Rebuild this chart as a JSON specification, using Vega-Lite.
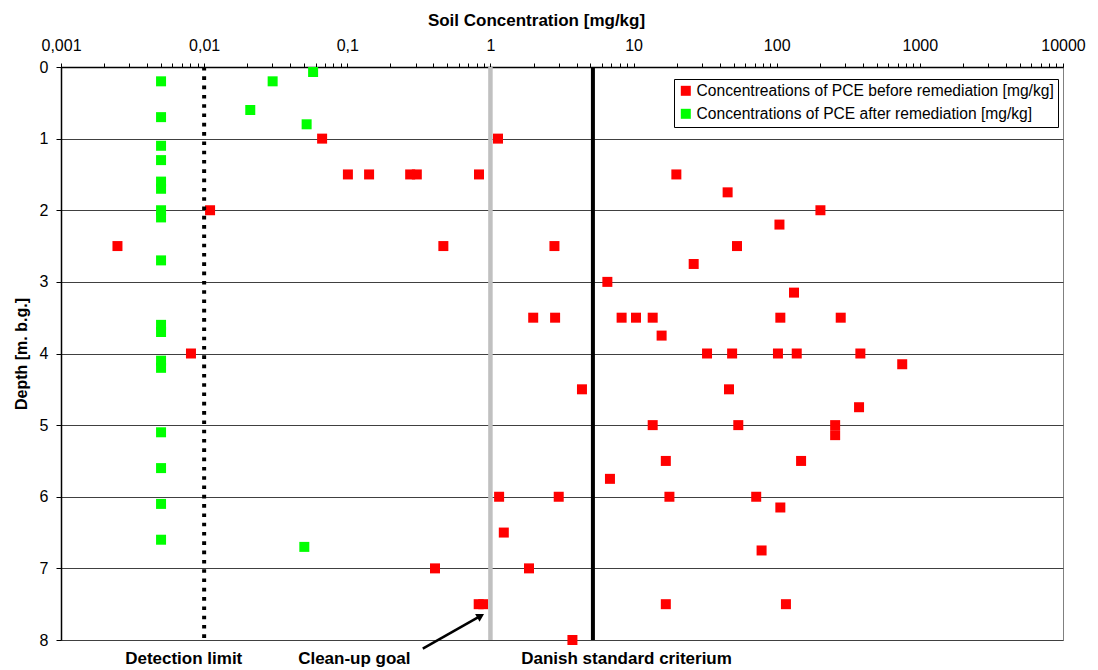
{
  "$schema": "https://vega.github.io/schema/vega-lite/v6.json",
  "width": 1002,
  "height": 573,
  "autosize": {"type": "none"},
  "padding": {"left": 61, "top": 67, "right": 35, "bottom": 30},
  "background": "white",
  "config": {
    "font": "Liberation Sans",
    "view": {"stroke": "#808080", "strokeWidth": 1}
  },
  "datasets": {
    "points": [
      {"conc": 0.0667, "depth": 1.0, "series": "Concentreations of PCE before remediation [mg/kg]"},
      {"conc": 1.13, "depth": 1.0, "series": "Concentreations of PCE before remediation [mg/kg]"},
      {"conc": 0.101, "depth": 1.5, "series": "Concentreations of PCE before remediation [mg/kg]"},
      {"conc": 0.142, "depth": 1.5, "series": "Concentreations of PCE before remediation [mg/kg]"},
      {"conc": 0.275, "depth": 1.5, "series": "Concentreations of PCE before remediation [mg/kg]"},
      {"conc": 0.306, "depth": 1.5, "series": "Concentreations of PCE before remediation [mg/kg]"},
      {"conc": 0.832, "depth": 1.5, "series": "Concentreations of PCE before remediation [mg/kg]"},
      {"conc": 19.9, "depth": 1.5, "series": "Concentreations of PCE before remediation [mg/kg]"},
      {"conc": 45.4, "depth": 1.75, "series": "Concentreations of PCE before remediation [mg/kg]"},
      {"conc": 0.011, "depth": 2.0, "series": "Concentreations of PCE before remediation [mg/kg]"},
      {"conc": 202, "depth": 2.0, "series": "Concentreations of PCE before remediation [mg/kg]"},
      {"conc": 104.5, "depth": 2.2, "series": "Concentreations of PCE before remediation [mg/kg]"},
      {"conc": 0.00248, "depth": 2.5, "series": "Concentreations of PCE before remediation [mg/kg]"},
      {"conc": 0.469, "depth": 2.5, "series": "Concentreations of PCE before remediation [mg/kg]"},
      {"conc": 2.8, "depth": 2.5, "series": "Concentreations of PCE before remediation [mg/kg]"},
      {"conc": 52.8, "depth": 2.5, "series": "Concentreations of PCE before remediation [mg/kg]"},
      {"conc": 26.3, "depth": 2.75, "series": "Concentreations of PCE before remediation [mg/kg]"},
      {"conc": 6.56, "depth": 3.0, "series": "Concentreations of PCE before remediation [mg/kg]"},
      {"conc": 132, "depth": 3.15, "series": "Concentreations of PCE before remediation [mg/kg]"},
      {"conc": 1.99, "depth": 3.5, "series": "Concentreations of PCE before remediation [mg/kg]"},
      {"conc": 2.83, "depth": 3.5, "series": "Concentreations of PCE before remediation [mg/kg]"},
      {"conc": 8.25, "depth": 3.5, "series": "Concentreations of PCE before remediation [mg/kg]"},
      {"conc": 10.4, "depth": 3.5, "series": "Concentreations of PCE before remediation [mg/kg]"},
      {"conc": 13.6, "depth": 3.5, "series": "Concentreations of PCE before remediation [mg/kg]"},
      {"conc": 106, "depth": 3.5, "series": "Concentreations of PCE before remediation [mg/kg]"},
      {"conc": 280, "depth": 3.5, "series": "Concentreations of PCE before remediation [mg/kg]"},
      {"conc": 15.7, "depth": 3.75, "series": "Concentreations of PCE before remediation [mg/kg]"},
      {"conc": 0.00809, "depth": 4.0, "series": "Concentreations of PCE before remediation [mg/kg]"},
      {"conc": 32.6, "depth": 4.0, "series": "Concentreations of PCE before remediation [mg/kg]"},
      {"conc": 48.8, "depth": 4.0, "series": "Concentreations of PCE before remediation [mg/kg]"},
      {"conc": 102, "depth": 4.0, "series": "Concentreations of PCE before remediation [mg/kg]"},
      {"conc": 138, "depth": 4.0, "series": "Concentreations of PCE before remediation [mg/kg]"},
      {"conc": 384, "depth": 4.0, "series": "Concentreations of PCE before remediation [mg/kg]"},
      {"conc": 753, "depth": 4.15, "series": "Concentreations of PCE before remediation [mg/kg]"},
      {"conc": 4.36, "depth": 4.5, "series": "Concentreations of PCE before remediation [mg/kg]"},
      {"conc": 46.4, "depth": 4.5, "series": "Concentreations of PCE before remediation [mg/kg]"},
      {"conc": 376, "depth": 4.75, "series": "Concentreations of PCE before remediation [mg/kg]"},
      {"conc": 13.6, "depth": 5.0, "series": "Concentreations of PCE before remediation [mg/kg]"},
      {"conc": 53.9, "depth": 5.0, "series": "Concentreations of PCE before remediation [mg/kg]"},
      {"conc": 256, "depth": 5.0, "series": "Concentreations of PCE before remediation [mg/kg]"},
      {"conc": 256, "depth": 5.14, "series": "Concentreations of PCE before remediation [mg/kg]"},
      {"conc": 16.8, "depth": 5.5, "series": "Concentreations of PCE before remediation [mg/kg]"},
      {"conc": 148, "depth": 5.5, "series": "Concentreations of PCE before remediation [mg/kg]"},
      {"conc": 6.84, "depth": 5.75, "series": "Concentreations of PCE before remediation [mg/kg]"},
      {"conc": 1.15, "depth": 6.0, "series": "Concentreations of PCE before remediation [mg/kg]"},
      {"conc": 3.0, "depth": 6.0, "series": "Concentreations of PCE before remediation [mg/kg]"},
      {"conc": 17.8, "depth": 6.0, "series": "Concentreations of PCE before remediation [mg/kg]"},
      {"conc": 71.9, "depth": 6.0, "series": "Concentreations of PCE before remediation [mg/kg]"},
      {"conc": 106, "depth": 6.15, "series": "Concentreations of PCE before remediation [mg/kg]"},
      {"conc": 1.24, "depth": 6.5, "series": "Concentreations of PCE before remediation [mg/kg]"},
      {"conc": 78.4, "depth": 6.75, "series": "Concentreations of PCE before remediation [mg/kg]"},
      {"conc": 0.41, "depth": 7.0, "series": "Concentreations of PCE before remediation [mg/kg]"},
      {"conc": 1.86, "depth": 7.0, "series": "Concentreations of PCE before remediation [mg/kg]"},
      {"conc": 0.828, "depth": 7.5, "series": "Concentreations of PCE before remediation [mg/kg]"},
      {"conc": 0.891, "depth": 7.5, "series": "Concentreations of PCE before remediation [mg/kg]"},
      {"conc": 16.8, "depth": 7.5, "series": "Concentreations of PCE before remediation [mg/kg]"},
      {"conc": 116, "depth": 7.5, "series": "Concentreations of PCE before remediation [mg/kg]"},
      {"conc": 3.74, "depth": 8.0, "series": "Concentreations of PCE before remediation [mg/kg]"},
      {"conc": 0.005, "depth": 0.2, "series": "Concentrations of PCE after remediation [mg/kg]"},
      {"conc": 0.005, "depth": 0.7, "series": "Concentrations of PCE after remediation [mg/kg]"},
      {"conc": 0.005, "depth": 1.1, "series": "Concentrations of PCE after remediation [mg/kg]"},
      {"conc": 0.005, "depth": 1.3, "series": "Concentrations of PCE after remediation [mg/kg]"},
      {"conc": 0.005, "depth": 1.6, "series": "Concentrations of PCE after remediation [mg/kg]"},
      {"conc": 0.005, "depth": 1.7, "series": "Concentrations of PCE after remediation [mg/kg]"},
      {"conc": 0.005, "depth": 2.0, "series": "Concentrations of PCE after remediation [mg/kg]"},
      {"conc": 0.005, "depth": 2.1, "series": "Concentrations of PCE after remediation [mg/kg]"},
      {"conc": 0.005, "depth": 2.7, "series": "Concentrations of PCE after remediation [mg/kg]"},
      {"conc": 0.005, "depth": 3.6, "series": "Concentrations of PCE after remediation [mg/kg]"},
      {"conc": 0.005, "depth": 3.7, "series": "Concentrations of PCE after remediation [mg/kg]"},
      {"conc": 0.005, "depth": 4.1, "series": "Concentrations of PCE after remediation [mg/kg]"},
      {"conc": 0.005, "depth": 4.2, "series": "Concentrations of PCE after remediation [mg/kg]"},
      {"conc": 0.005, "depth": 5.1, "series": "Concentrations of PCE after remediation [mg/kg]"},
      {"conc": 0.005, "depth": 5.6, "series": "Concentrations of PCE after remediation [mg/kg]"},
      {"conc": 0.005, "depth": 6.1, "series": "Concentrations of PCE after remediation [mg/kg]"},
      {"conc": 0.005, "depth": 6.6, "series": "Concentrations of PCE after remediation [mg/kg]"},
      {"conc": 0.0301, "depth": 0.2, "series": "Concentrations of PCE after remediation [mg/kg]"},
      {"conc": 0.0577, "depth": 0.07, "series": "Concentrations of PCE after remediation [mg/kg]"},
      {"conc": 0.021, "depth": 0.6, "series": "Concentrations of PCE after remediation [mg/kg]"},
      {"conc": 0.052, "depth": 0.8, "series": "Concentrations of PCE after remediation [mg/kg]"},
      {"conc": 0.0501, "depth": 6.7, "series": "Concentrations of PCE after remediation [mg/kg]"}
    ],
    "detection": [{"conc": 0.01}],
    "cleanup": [{"conc": 1}],
    "danish": [{"conc": 5.2}],
    "labels": [
      {"conc": 0.0072, "depth": 8.26, "text": "Detection limit"},
      {"conc": 0.112, "depth": 8.26, "text": "Clean-up goal"},
      {"conc": 8.93, "depth": 8.26, "text": "Danish standard criterium"}
    ],
    "arrow": [{"conc": 0.337, "depth": 8.12, "conc2": 0.86, "depth2": 7.66}],
    "arrowhead": [{"conc": 0.855, "depth": 7.665}]
  },
  "layer": [
    {
      "data": {"name": "points"},
      "mark": {"type": "point", "shape": "square", "filled": true, "size": 100, "opacity": 1},
      "encoding": {
        "x": {
          "field": "conc",
          "type": "quantitative",
          "title": "Soil Concentration [mg/kg]",
          "scale": {"type": "log", "domain": [0.001, 10000], "nice": false},
          "axis": {
            "orient": "top",
            "grid": false,
            "values": [0.001,0.002,0.003,0.004,0.005,0.006,0.007,0.008,0.009,0.01,0.02,0.03,0.04,0.05,0.06,0.07,0.08,0.09,0.1,0.2,0.3,0.4,0.5,0.6,0.7,0.8,0.9,1,2,3,4,5,6,7,8,9,10,20,30,40,50,60,70,80,90,100,200,300,400,500,600,700,800,900,1000,2000,3000,4000,5000,6000,7000,8000,9000,10000],
            "labelExpr": "indexof([0.001,0.01,0.1,1,10,100,1000,10000], datum.value) >= 0 ? replace(format(datum.value, '~r'), '.', ',') : ''",
            "labelOverlap": false,
            "labelFlush": false,
            "labelFontSize": 16,
            "labelColor": "black",
            "labelPadding": 10,
            "tickSize": 4,
            "tickColor": "black",
            "domainColor": "black",
            "domainWidth": 1.5,
            "titleFontSize": 17,
            "titleFontWeight": "bold",
            "titleColor": "black",
            "titlePadding": 8,
            "titleX": 475
          }
        },
        "y": {
          "field": "depth",
          "type": "quantitative",
          "title": "Depth [m. b.g.]",
          "scale": {"domain": [0, 8], "reverse": true, "nice": false},
          "axis": {
            "values": [0,1,2,3,4,5,6,7,8],
            "format": "d",
            "grid": true,
            "gridColor": "#404040",
            "gridWidth": 1,
            "labelFontSize": 16,
            "labelColor": "black",
            "labelPadding": 8,
            "tickSize": 5,
            "tickColor": "black",
            "domainColor": "black",
            "domainWidth": 1.5,
            "titleFontSize": 16,
            "titleFontWeight": "bold",
            "titleColor": "black",
            "titlePadding": 10
          }
        },
        "color": {
          "field": "series",
          "type": "nominal",
          "scale": {
            "domain": ["Concentreations of PCE before remediation [mg/kg]", "Concentrations of PCE after remediation [mg/kg]"],
            "range": ["#FF0000", "#00FF00"]
          },
          "legend": {
            "orient": "none",
            "legendX": 613,
            "legendY": 12,
            "title": null,
            "strokeColor": "black",
            "fillColor": "white",
            "padding": 4,
            "symbolType": "square",
            "symbolSize": 100,
            "symbolStrokeWidth": 0,
            "labelFontSize": 15.6,
            "labelColor": "black",
            "labelLimit": 600,
            "labelOffset": 3,
            "rowPadding": 6
          }
        }
      }
    },
    {
      "data": {"name": "detection"},
      "mark": {"type": "rule", "color": "black", "strokeWidth": 4, "strokeDash": [3.6, 5.7]},
      "encoding": {"x": {"field": "conc", "type": "quantitative", "title": "Soil Concentration [mg/kg]"}}
    },
    {
      "data": {"name": "cleanup"},
      "mark": {"type": "rule", "color": "#C0C0C0", "strokeWidth": 4.5},
      "encoding": {"x": {"field": "conc", "type": "quantitative", "title": "Soil Concentration [mg/kg]"}}
    },
    {
      "data": {"name": "danish"},
      "mark": {"type": "rule", "color": "black", "strokeWidth": 4},
      "encoding": {"x": {"field": "conc", "type": "quantitative", "title": "Soil Concentration [mg/kg]"}}
    },
    {
      "data": {"name": "labels"},
      "mark": {"type": "text", "fontSize": 17, "fontWeight": "bold", "align": "center", "baseline": "middle", "color": "black"},
      "encoding": {
        "x": {"field": "conc", "type": "quantitative", "title": "Soil Concentration [mg/kg]"},
        "y": {"field": "depth", "type": "quantitative", "title": "Depth [m. b.g.]"},
        "text": {"field": "text"}
      }
    },
    {
      "data": {"name": "arrow"},
      "mark": {"type": "rule", "color": "black", "strokeWidth": 2.5},
      "encoding": {
        "x": {"field": "conc", "type": "quantitative", "title": "Soil Concentration [mg/kg]"},
        "y": {"field": "depth", "type": "quantitative", "title": "Depth [m. b.g.]"},
        "x2": {"field": "conc2"},
        "y2": {"field": "depth2"}
      }
    },
    {
      "data": {"name": "arrowhead"},
      "mark": {"type": "point", "shape": "triangle-up", "filled": true, "size": 80, "angle": 60, "color": "black", "opacity": 1},
      "encoding": {
        "x": {"field": "conc", "type": "quantitative", "title": "Soil Concentration [mg/kg]"},
        "y": {"field": "depth", "type": "quantitative", "title": "Depth [m. b.g.]"}
      }
    }
  ]
}
